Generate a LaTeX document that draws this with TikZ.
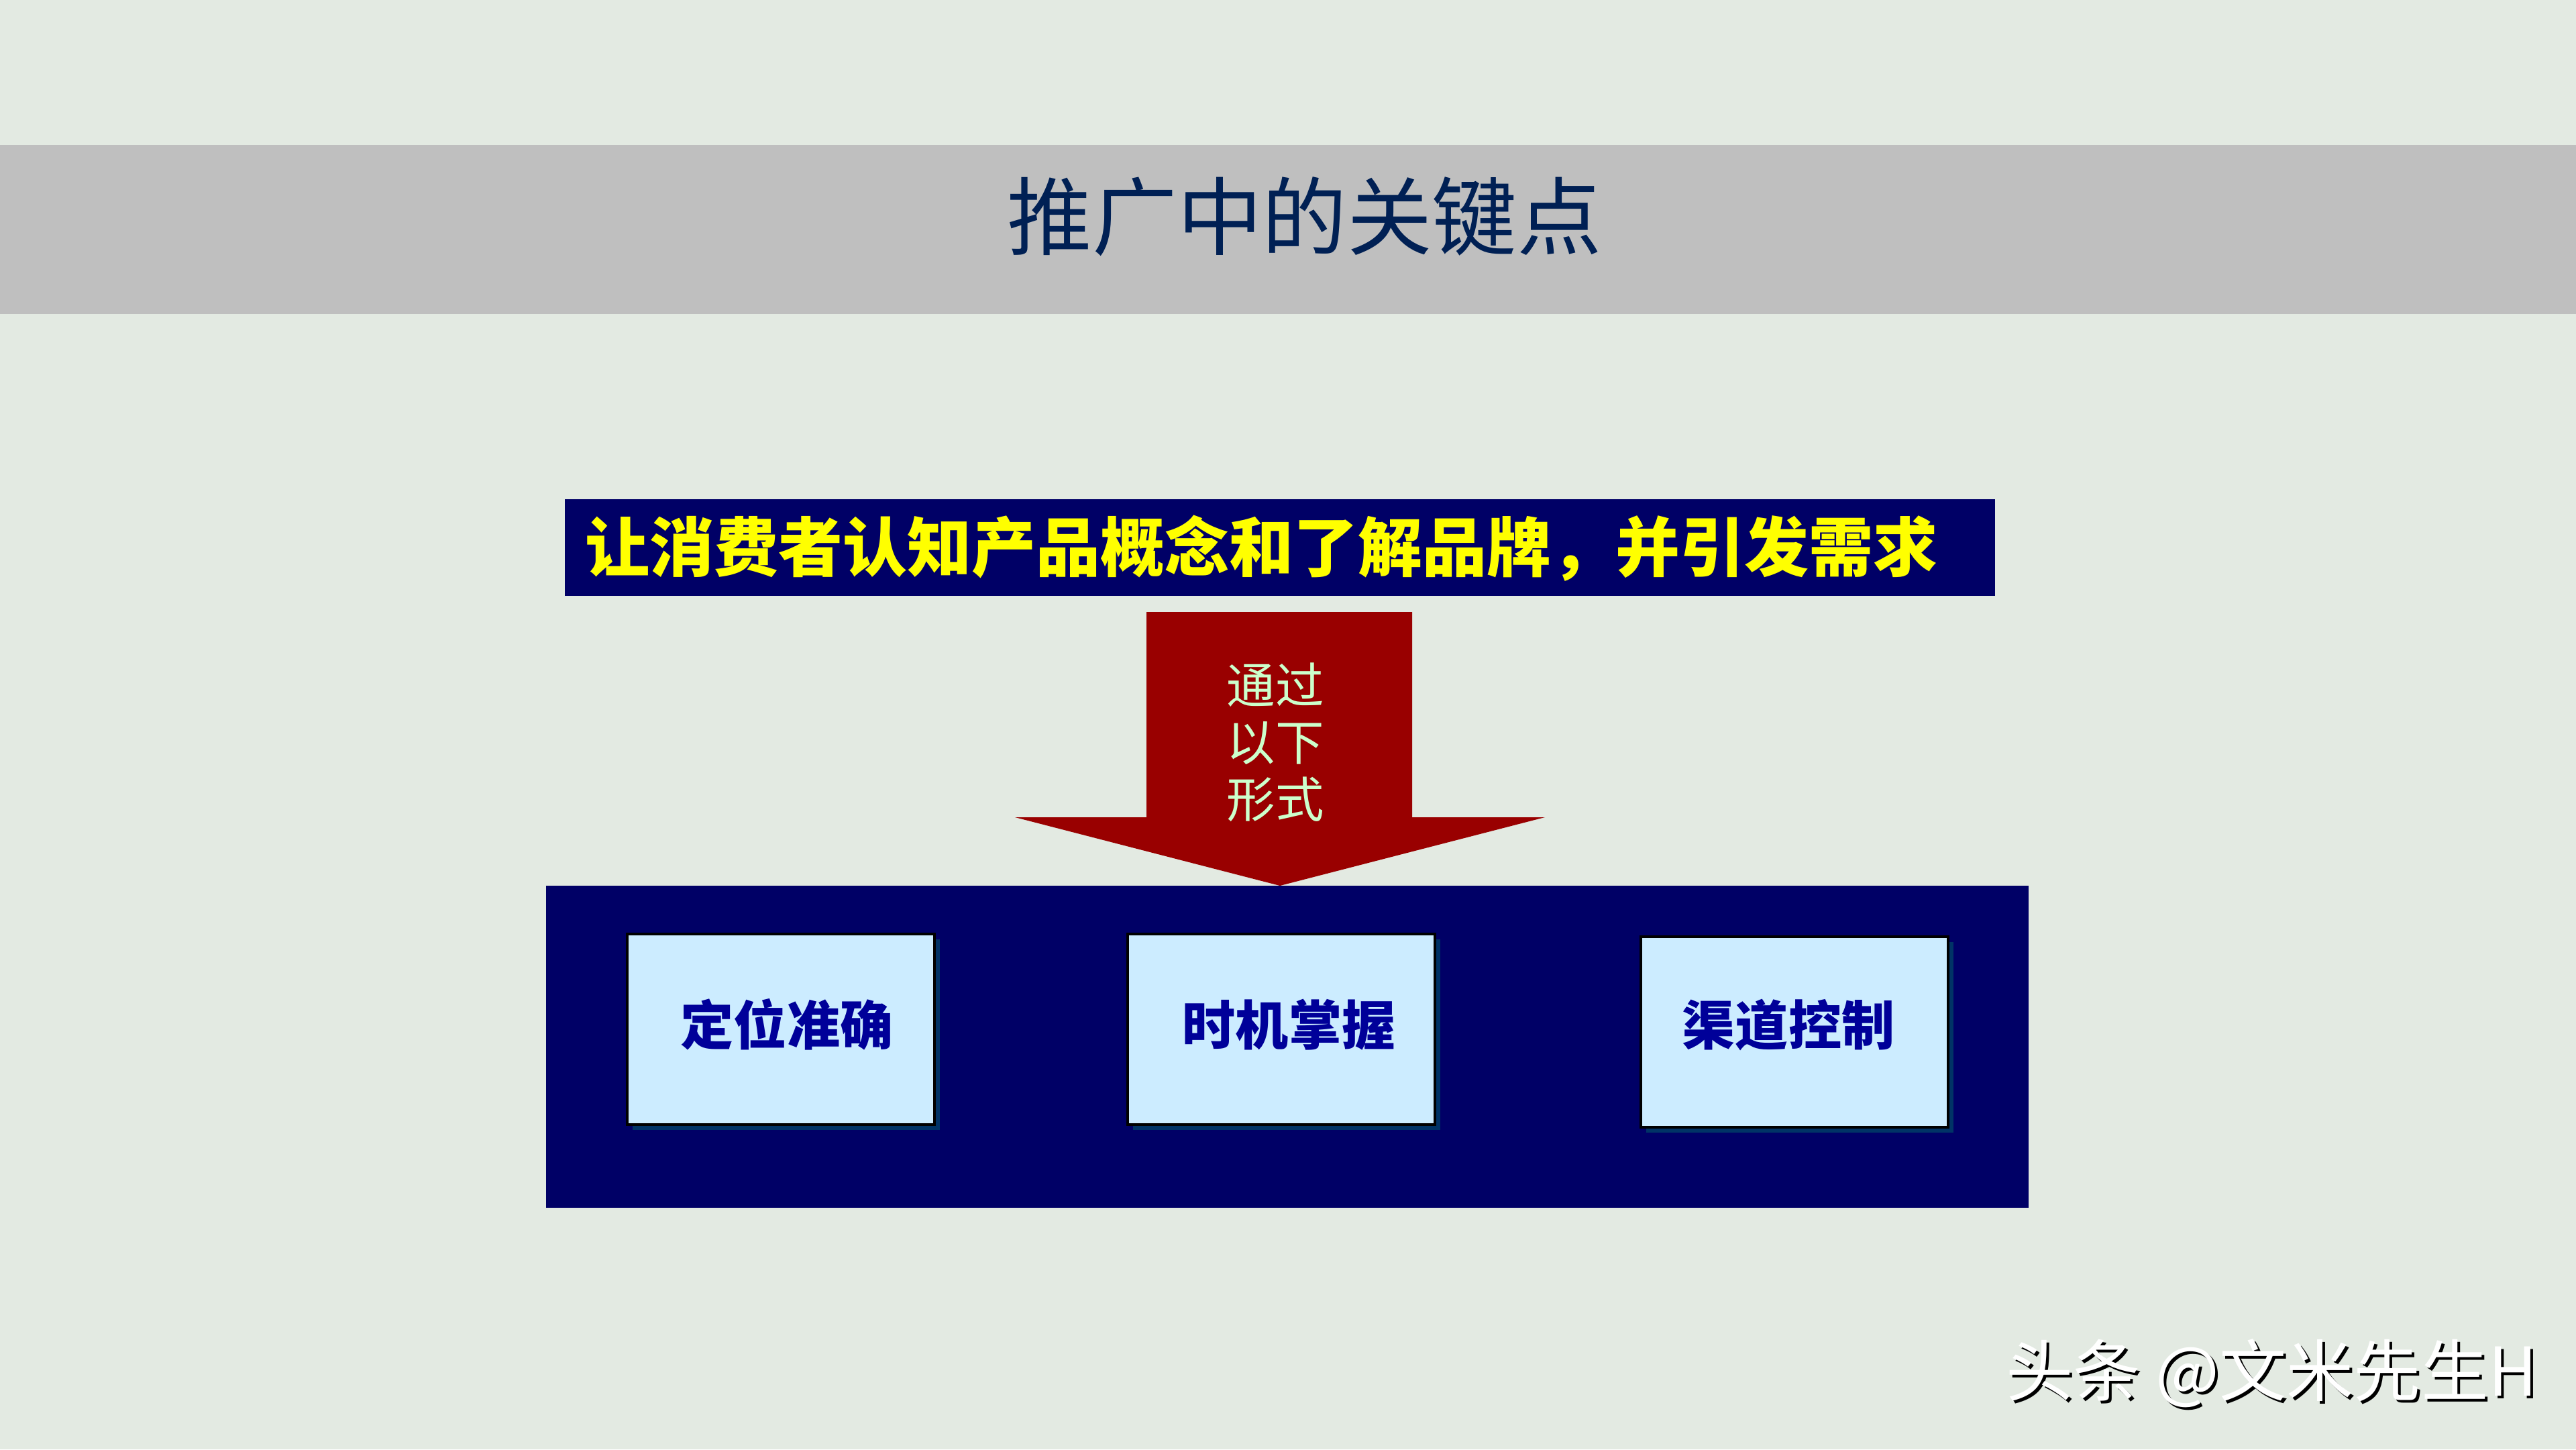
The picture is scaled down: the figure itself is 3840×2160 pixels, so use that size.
\documentclass[tikz,border=0pt]{standalone}
\usepackage{fontspec}
\setmainfont{Noto Sans CJK SC}
\usetikzlibrary{shadows}
\definecolor{bgc}{RGB}{227,234,226}
\definecolor{barc}{RGB}{191,191,191}
\definecolor{titlec}{RGB}{0,32,84}
\definecolor{navyc}{RGB}{0,0,102}
\definecolor{arrowc}{RGB}{153,0,0}
\definecolor{arrowtxt}{RGB}{204,255,204}
\definecolor{boxfill}{RGB}{204,236,255}
\definecolor{boxtxt}{RGB}{0,0,153}
\definecolor{shadowc}{RGB}{0,51,102}
\definecolor{bannertxt}{RGB}{255,255,0}
\tikzset{
  titletext/.style={anchor=base, inner sep=0pt, text=titlec, font=\fontsize{36}{40}\selectfont},
  bannertext/.style={anchor=base west, inner sep=0pt, text=bannertxt, font=\fontsize{27.3}{30}\selectfont\bfseries},
  arrowtext/.style={anchor=center, inner sep=0pt, align=center, text=arrowtxt, font=\fontsize{20.6}{24.2}\selectfont},
  kbox/.style={draw=black, line width=1.14pt, fill=boxfill, minimum width=4.58cm, minimum height=2.84cm,
    inner sep=0pt,
    drop shadow={shadow xshift=0.08cm, shadow yshift=-0.08cm, fill=shadowc, opacity=1}},
  kboxtext/.style={inner sep=0pt, text=boxtxt, font=\fontsize{22.5}{26}\selectfont\bfseries},
  wmtext/.style={anchor=base west, inner sep=0pt, font=\fontsize{28.5}{32}\selectfont},
}
\begin{document}
\begin{tikzpicture}[x=0.01cm, y=-0.01cm]
\useasboundingbox (0,0) rectangle (3840,2160);
\fill[bgc] (0,0) rectangle (3840,2160);
% title bar
\fill[barc] (0,216) rectangle (3840,468);
\node[titletext] (title) at (1945,370) {推广中的关键点};
% banner
\fill[navyc] (842,744) rectangle (2974,888);
\node[bannertext] (banner) at (872,851) {让消费者认知产品概念和了解品牌，并引发需求};
% arrow
\fill[arrowc] (1709,912) -- (2105,912) -- (2105,1218) -- (2303,1218) -- (1908,1320) -- (1513,1218) -- (1709,1218) -- cycle;
\node[arrowtext] (via) at (1901,1106) {通过\\以下\\形式};
% big box
\fill[navyc] (814,1320) rectangle (3024,1800);
\node[kbox] (b1) at (1164,1534) {};
\node[kbox] (b2) at (1910,1534) {};
\node[kbox] (b3) at (2675,1538) {};
\node[kboxtext] (t1) at ([xshift=0.09cm,yshift=0.07cm]b1.center) {定位准确};
\node[kboxtext] (t2) at ([xshift=0.11cm,yshift=0.07cm]b2.center) {时机掌握};
\node[kboxtext] (t3) at ([xshift=-0.09cm,yshift=0.11cm]b3.center) {渠道控制};
% watermark
\node[wmtext, text=black] (wms) at (2994,2084) {头条 @文米先生H};
\node[wmtext, text=white] (wm) at (2990,2080) {头条 @文米先生H};
\end{tikzpicture}
\end{document}
